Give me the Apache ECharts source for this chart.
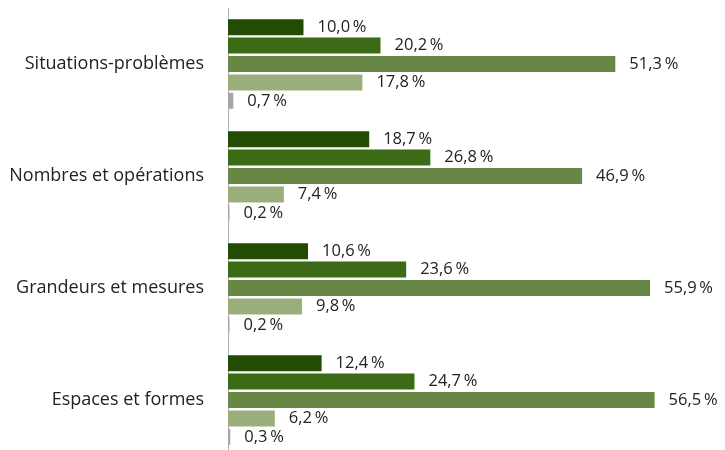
<!DOCTYPE html>
<html><head><meta charset="utf-8">
<script src="https://cdn.jsdelivr.net/npm/echarts@6/dist/echarts.min.js"></script>
<style>html,body{margin:0;padding:0;background:#fff;overflow:hidden}#c{width:725px;height:464px}</style>
</head><body><div id="c"></div>
<script>
const categories = ["Situations-problèmes", "Nombres et opérations", "Grandeurs et mesures", "Espaces et formes"];
const serie1 = [10.0, 18.7, 10.6, 12.4];
const serie2 = [20.2, 26.8, 23.6, 24.7];
const serie3 = [51.3, 46.9, 55.9, 56.5];
const serie4 = [17.8, 7.4, 9.8, 6.2];
const serie5 = [0.7, 0.2, 0.2, 0.3];
const colors = ["#244b03", "#3c6a16", "#678845", "#9aaf7c", "#aaa6a6"];
const allSeries = [serie1, serie2, serie3, serie4, serie5];
const font = "'Open Sans', sans-serif";
const chart = echarts.init(document.getElementById('c'));
chart.setOption({
  animation: false,
  grid: { left: 228, top: 8, width: 453, height: 448 },
  xAxis: { type: 'value', min: 0, max: 60, show: false },
  yAxis: {
    type: 'category', data: categories, inverse: true,
    axisLine: { show: true, lineStyle: { color: '#b0b0b0', width: 1 } },
    axisTick: { show: false },
    axisLabel: { color: '#222', fontSize: 18, fontFamily: font, margin: 24 }
  },
  series: allSeries.map((d, i) => ({
    type: 'bar', data: d, barWidth: 16, barGap: '15%',
    itemStyle: { color: colors[i] },
    label: {
      show: true, position: 'right', distance: 14, color: '#222',
      fontSize: 16.5, fontFamily: font,
      formatter: p => p.value.toFixed(1).replace('.', ',') + '\u2009%'
    }
  }))
});
</script></body></html>
